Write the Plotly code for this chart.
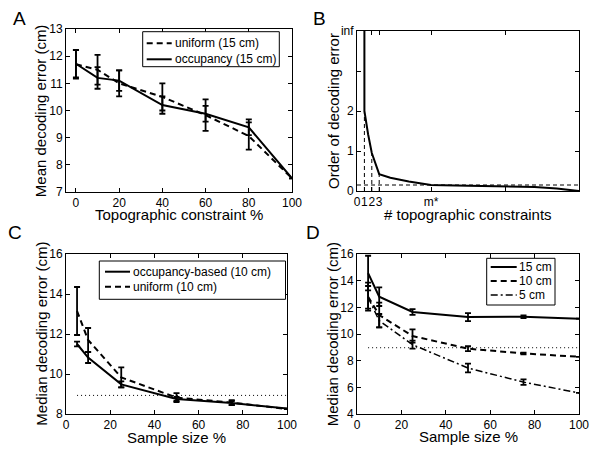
import plotly.graph_objects as go

FONT = "Liberation Sans, Arial, sans-serif"

# ---------------- Panel A ----------------
A_x = [0, 10, 20, 40, 60, 80, 100]
A_uniform = [11.70, 11.50, 11.00, 10.50, 9.83, 9.06, 7.50]
A_uniform_err = [0.53, 0.55, 0.48, 0.50, 0.58, 0.50, 0.0]
A_occ = [11.72, 11.20, 11.10, 10.20, 9.88, 9.38, 7.50]
A_occ_err = [0.50, 0.40, 0.38, 0.32, 0.29, 0.29, 0.0]

# ---------------- Panel B ----------------
B_x = [1, 1, 1.5, 2, 3, 4.5, 7, 10, 15, 20, 24, 27, 30]
B_y = [4, 2, 1.42, 0.95, 0.42, 0.33, 0.24, 0.15, 0.13, 0.12, 0.10, 0.06, 0]
B_guide_x = [1, 2, 3]
B_guide_top = [2, 0.95, 0.42]
B_floor = 0.15
B_xtickvals = [0, 1, 2, 3, 10, 20]
B_xticktext = ["0", "1", "2", "3", "m*", ""]
B_ytickvals = [0, 1, 2, 3, 4]
B_yticktext = ["0", "1", "2", "", "inf"]

# ---------------- Panel C ----------------
C_x = [5, 10, 25, 50, 75, 100]
C_occ = [11.50, 10.82, 9.48, 8.75, 8.55, 8.27]
C_occ_err = [0.12, 0.27, 0.15, 0.10, 0.10, 0.0]
C_uni = [13.15, 11.70, 9.83, 8.82, 8.57, 8.25]
C_uni_err = [1.20, 0.60, 0.50, 0.22, 0.12, 0.0]
C_thresh_x = [5, 100]
C_thresh = 8.93

# ---------------- Panel D ----------------
D_x = [5, 10, 25, 50, 75, 100]
D_15 = [14.57, 12.80, 11.65, 11.27, 11.30, 11.15]
D_15_err = [1.30, 0.70, 0.22, 0.30, 0.10, 0.0]
D_10 = [12.80, 11.42, 9.85, 8.90, 8.54, 8.29]
D_10_err = [1.05, 0.93, 0.50, 0.18, 0.07, 0.0]
D_5 = [12.75, 11.00, 9.20, 7.45, 6.39, 5.58]
D_5_err = [0.85, 0.50, 0.30, 0.33, 0.20, 0.0]
D_thresh_x = [5, 100]
D_thresh = 8.97

DASH = "6px,4px"
DASHDOT = "7px,3px,2px,3px"
DOT = "1px,3px"

W, H = 600, 462
fig = go.Figure()


def err(arr):
    return dict(type="data", array=arr, visible=True, color="black", thickness=1.8, width=3)


def line(x, y, ax, dash="solid", width=2, name=None, e=None):
    fig.add_trace(go.Scatter(x=x, y=y, mode="lines", name=name, showlegend=False,
                             line=dict(color="black", width=width, dash=dash),
                             error_y=err(e) if e is not None else None,
                             xaxis="x" + ax, yaxis="y" + ax))


# Panel A
line(A_x, A_uniform, "", DASH, 2, "uniform (15 cm)", A_uniform_err)
line(A_x, A_occ, "", "solid", 2, "occupancy (15 cm)", A_occ_err)

# Panel B
line(B_x, B_y, "2", "solid", 2)
for gx, gy in zip(B_guide_x, B_guide_top):
    line([gx, gx], [0, gy], "2", "4px,3px", 1)
line([0, 30], [B_floor, B_floor], "2", "4px,3px", 1)

# Panel C
line(C_thresh_x, [C_thresh] * len(C_thresh_x), "3", DOT, 1)
line(C_x, C_occ, "3", "solid", 2, "occupancy-based (10 cm)", C_occ_err)
line(C_x, C_uni, "3", DASH, 2, "uniform (10 cm)", C_uni_err)

# Panel D
line(D_thresh_x, [D_thresh] * len(D_thresh_x), "4", DOT, 1)
line(D_x, D_15, "4", "solid", 2, "15 cm", D_15_err)
line(D_x, D_10, "4", DASH, 2, "10 cm", D_10_err)
line(D_x, D_5, "4", DASHDOT, 1.5, "5 cm", D_5_err)


def dx(a, b):
    return [a / W, b / W]


def dy(top, bottom):
    return [1 - bottom / H, 1 - top / H]


ax_common = dict(showline=True, linecolor="black", linewidth=1, mirror="ticks", ticks="inside",
                 ticklen=4, tickwidth=1, tickcolor="black", showgrid=False, zeroline=False,
                 automargin=False, tickangle=0,
                 tickfont=dict(family=FONT, size=12, color="black"))

fig.update_layout(
    template="none",
    width=W, height=H, paper_bgcolor="white", plot_bgcolor="white",
    margin=dict(l=0, r=0, t=0, b=0, pad=0, autoexpand=False),
    font=dict(family=FONT, color="black"),
    showlegend=False,
    xaxis=dict(domain=dx(66, 292), range=[-4.6, 100], tickvals=[0, 20, 40, 60, 80, 100], anchor="y", **ax_common),
    yaxis=dict(domain=dy(29, 192), range=[7, 13], tickvals=[7, 8, 9, 10, 11, 12, 13], anchor="x", **ax_common),
    xaxis2=dict(domain=dx(357, 579), range=[0, 30], tickvals=B_xtickvals, ticktext=B_xticktext, anchor="y2", **ax_common),
    yaxis2=dict(domain=dy(31, 191), range=[0, 4], tickvals=B_ytickvals, ticktext=B_yticktext, anchor="x2", **ax_common),
    xaxis3=dict(domain=dx(66, 287), range=[0, 100], tickvals=[0, 20, 40, 60, 80, 100], anchor="y3", **ax_common),
    yaxis3=dict(domain=dy(254, 414), range=[8, 16], tickvals=[8, 10, 12, 14, 16], anchor="x3", **ax_common),
    xaxis4=dict(domain=dx(357, 579), range=[0, 100], tickvals=[0, 20, 40, 60, 80, 100], anchor="y4", **ax_common),
    yaxis4=dict(domain=dy(254, 414), range=[4, 16], tickvals=[4, 6, 8, 10, 12, 14, 16], anchor="x4", **ax_common),
)


def ann(text, x, y, size, angle=0, xanchor="center"):
    fig.add_annotation(text=text, x=x / W, y=1 - y / H, xref="paper", yref="paper",
                       showarrow=False, textangle=angle, xanchor=xanchor, yanchor="middle",
                       font=dict(family=FONT, size=size, color="black"))


def legend_box(x0, x1, y0, y1, items, lx0, lx1, tx):
    fig.add_shape(type="rect", xref="paper", yref="paper", x0=x0 / W, x1=x1 / W,
                  y0=1 - y1 / H, y1=1 - y0 / H, line=dict(color="black", width=1), fillcolor="white",
                  layer="above")
    for (label, dash, width, yy) in items:
        fig.add_shape(type="line", xref="paper", yref="paper", x0=lx0 / W, x1=lx1 / W,
                      y0=1 - yy / H, y1=1 - yy / H, line=dict(color="black", width=width, dash=dash),
                      layer="above")
        ann(label, tx, yy, 12, xanchor="left")


# legends (drawn as boxes with samples)
legend_box(142.7, 279.3, 31.7, 66.7,
           [("uniform (15 cm)", DASH, 2, 43.3), ("occupancy (15 cm)", "solid", 2, 59.3)],
           146.7, 171.7, 172.5)
legend_box(99.3, 285.5, 261, 299.3,
           [("occupancy-based (10 cm)", "solid", 2, 271.7), ("uniform (10 cm)", DASH, 2, 286.7)],
           105, 130, 131)
legend_box(486.7, 555, 258.3, 305,
           [("15 cm", "solid", 2, 267), ("10 cm", DASH, 2, 281), ("5 cm", DASHDOT, 1.5, 295)],
           490.7, 516.7, 517)

# panel letters
ann("A", 19, 19, 19)
ann("B", 319, 19, 19)
ann("C", 15, 233, 19)
ann("D", 313, 233, 19)

# axis titles
ann("Mean decoding error (cm)", 40.7, 110.5, 15, -90)
ann("Topographic constraint %", 179, 214, 15)
ann("Order of decoding error", 333, 111, 15, -90)
ann("# topographic constraints", 468, 214, 15)
ann("Median decoding error (cm)", 40.7, 334, 15, -90)
ann("Sample size %", 176.7, 437, 15)
ann("Median decoding error (cm)", 332.3, 334, 15, -90)
ann("Sample size %", 468.3, 436, 15)

fig.write_html("out.html", config={"displayModeBar": False},
               post_script="document.body.style.margin='0';")
